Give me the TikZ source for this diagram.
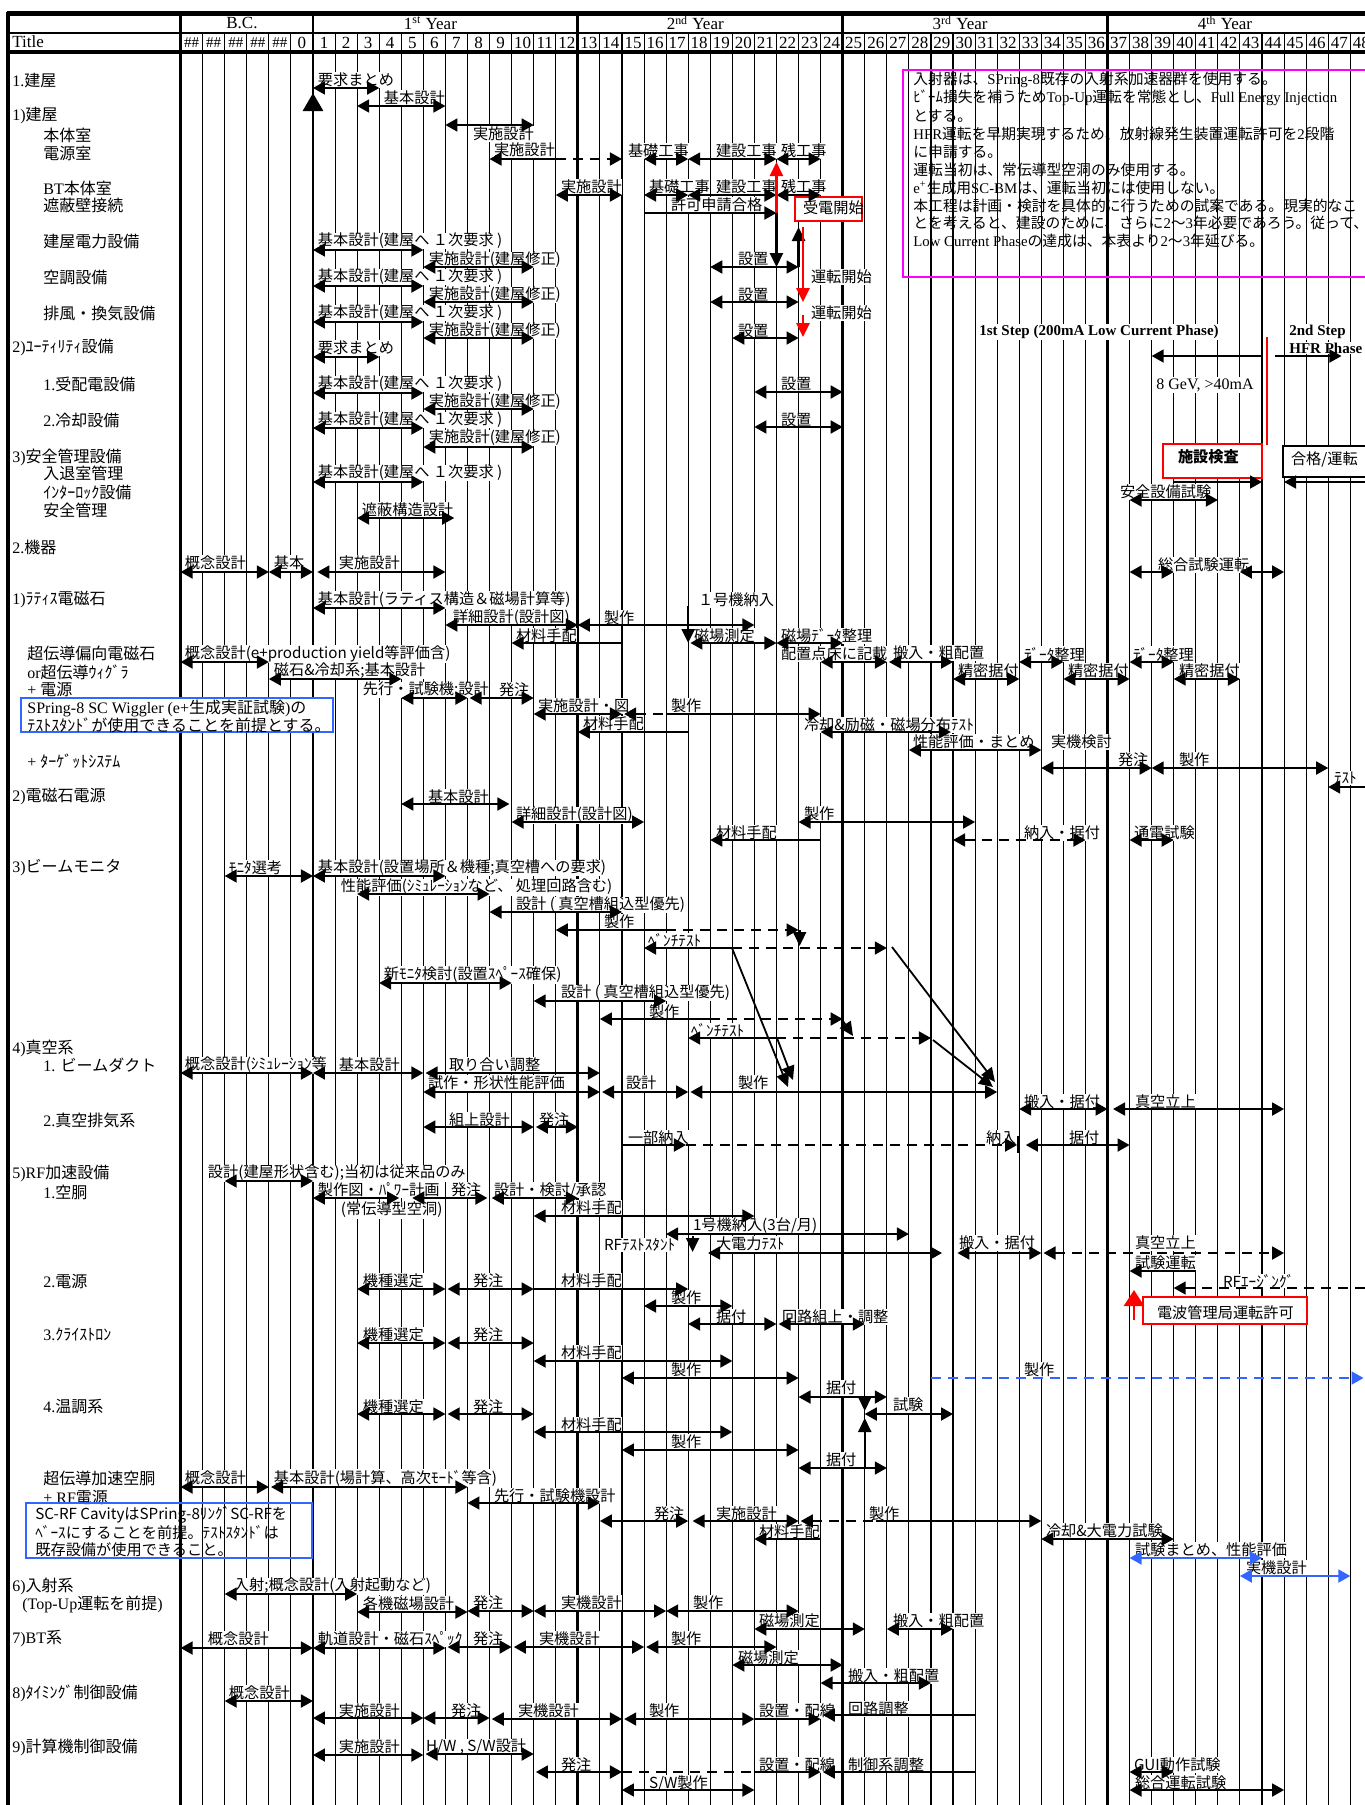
\documentclass[tikz,border=0pt]{standalone}
\usepackage{fontspec}
\setmainfont{Liberation Serif}
\newfontfamily\jafont{Noto Sans CJK JP}
\usetikzlibrary{arrows.meta}
\definecolor{bl}{RGB}{51,102,255}
\definecolor{mg}{RGB}{255,0,255}
\XeTeXinterchartokenstate=1
\ifdefined\newXeTeXintercharclass \newXeTeXintercharclass\JAcls \else \chardef\JAcls=11 \fi
\newcount\jc
\jc="3000
\loop\XeTeXcharclass\jc=\JAcls \advance\jc by 1 \ifnum\jc<"A000 \repeat
\jc="FF00
\loop\XeTeXcharclass\jc=\JAcls \advance\jc by 1 \ifnum\jc<"FFF0 \repeat
\XeTeXinterchartoks 0 \JAcls={\jafont}
\XeTeXinterchartoks 4095 \JAcls={\jafont}
\XeTeXinterchartoks \JAcls 0={\rmfamily}
\XeTeXinterchartoks 4095 0={\rmfamily}
\newcommand\labfont{\XeTeXinterchartokenstate=0 \jafont\fontsize{7.6}{8.6}\selectfont}
\newcommand\pxm[1]{((#1)-313)/22.07}
\newcounter{lc}
\pgfdeclarelayer{bg}
\pgfdeclarelayer{grid}
\pgfdeclarelayer{lab}
\pgfsetlayers{bg,grid,lab,main}
\tikzset{
 gl/.style={line width=0.55pt},
 yl/.style={line width=1.4pt},
 lab/.style={font=\labfont, fill=white, inner sep=0.3pt, anchor=west},
 ttl/.style={font=\rmfamily\fontsize{8}{9}\selectfont, anchor=west, inner sep=0pt},
 hdr/.style={font=\rmfamily\fontsize{8.5}{9}\selectfont, inner sep=0pt},
 notetxt/.style={font=\rmfamily\fontsize{7.4}{8}\selectfont, anchor=west, inner sep=0pt},
 bb/.style={line width=0.9pt, {Triangle[length=6pt,width=6.5pt]}-{Triangle[length=6pt,width=6.5pt]}},
 rb/.style={line width=0.9pt, -{Triangle[length=6pt,width=6.5pt]}},
 lb/.style={line width=0.9pt, {Triangle[length=6pt,width=6.5pt]}-},
 nb/.style={line width=0.9pt},
 dsh/.style={dash pattern=on 5pt off 3.5pt},
 va/.style={line width=1.3pt, -{Triangle[length=7pt,width=6.5pt]}},
}
\newcommand\LL[3]{\stepcounter{lc}\begin{pgfonlayer}{lab}\node[lab] (g\arabic{lc}) at ({\pxm{#1}},#2) {#3};\end{pgfonlayer}}
\newcommand\BB[4][bb]{\draw[#1] (#2,#4) -- (#3,#4);}
\newcommand\LT[3]{\stepcounter{lc}\node[ttl] (t\arabic{lc}) at ({\pxm{#1}},#2) {#3};}
\begin{document}
\begin{tikzpicture}[x=11.035pt,y=-0.5pt]
\useasboundingbox ({\pxm{0}},0) rectangle ({\pxm{1365}},1805);
\begin{pgfonlayer}{bg}
\fill[white] ({\pxm{0}},0) rectangle ({\pxm{1365}},1805);
\end{pgfonlayer}
% ---------- grid ----------
\begin{pgfonlayer}{grid}
\foreach \k in {-5,...,48} \draw[gl] (\k,33) -- (\k,1810);
\foreach \k in {0,12,24,36} \draw[yl] (\k,13) -- (\k,1810);
\draw[line width=1.6pt] (-6,13) -- (-6,1810);
\end{pgfonlayer}
\draw[line width=2.2pt] ({\pxm{8}},12) -- ({\pxm{8}},1810);
\draw[line width=2.5pt] ({\pxm{7}},13) -- (49,13);
\draw[line width=0.8pt] ({\pxm{8}},33) -- (49,33);
\draw[line width=1.6pt] ({\pxm{8}},52) -- (49,52);
% ---------- header ----------
\node[hdr] (hbc) at ({\pxm{242}},23) {B.C.};
\node[hdr] (hy1) at (6-0.68,23) {1\textsuperscript{st} Year};
\node[hdr] (hy2) at (18-0.68,23) {2\textsuperscript{nd} Year};
\node[hdr] (hy3) at (30-0.68,23) {3\textsuperscript{rd} Year};
\node[hdr] (hy4) at (42-0.68,23) {4\textsuperscript{th} Year};
\node[hdr,anchor=west] (htitle) at ({\pxm{12}},42) {Title};
\foreach \k in {-6,...,-2} \node[hdr,font=\rmfamily\fontsize{7.5}{8}\selectfont] (hh\k) at (\k+0.5,43) {\#\#};
\node[hdr] (h0) at (-0.5,43) {0};
\foreach \k in {1,...,48} \node[hdr] (hn\k) at (\k-0.5,43) {\k};
% ---------- left titles ----------
\LT{12}{80}{1.建屋}
\LT{12}{116}{1)建屋}
\LT{43}{135}{本体室}
\LT{43}{153}{電源室}
\LT{43}{188}{BT本体室}
\LT{43}{205}{遮蔽壁接続}
\LT{43}{241}{建屋電力設備}
\LT{43}{277}{空調設備}
\LT{43}{313}{排風・換気設備}
\LT{12}{348}{2)ﾕｰﾃｨﾘﾃｨ設備}
\LT{43}{384}{1.受配電設備}
\LT{43}{420}{2.冷却設備}
\LT{12}{457}{3)安全管理設備}
\LT{43}{473}{入退室管理}
\LT{43}{492}{ｲﾝﾀｰﾛｯｸ設備}
\LT{43}{510}{安全管理}
\LT{12}{547}{2.機器}
\LT{12}{600}{1)ﾗﾃｨｽ電磁石}
\LT{27}{653}{超伝導偏向電磁石}
\LT{27}{672}{or超伝導ｳｨｸﾞﾗ}
\LT{27}{689}{+ 電源}
\LT{27}{761}{+ ﾀｰｹﾞｯﾄｼｽﾃﾑ}
\LT{12}{797}{2)電磁石電源}
\LT{12}{868}{3)ビームモニタ}
\LT{12}{1048}{4)真空系}
\LT{43}{1065}{1. ビームダクト}
\LT{43}{1120}{2.真空排気系}
\LT{12}{1173}{5)RF加速設備}
\LT{43}{1192}{1.空胴}
\LT{43}{1281}{2.電源}
\LT{43}{1335}{3.ｸﾗｲｽﾄﾛﾝ}
\LT{43}{1407}{4.温調系}
\LT{43}{1478}{超伝導加速空胴}
\LT{43}{1497}{+ RF電源}
\LT{12}{1586}{6)入射系}
\LT{22}{1604}{(Top-Up運転を前提)}
\LT{12}{1639}{7)BT系}
\LT{12}{1693}{8)ﾀｲﾐﾝｸﾞ制御設備}
\LT{12}{1747}{9)計算機制御設備}
% blue note boxes
\begin{pgfonlayer}{lab}
\draw[bl,line width=0.8pt,fill=white] ({\pxm{21}},698) rectangle ({\pxm{333}},732);
\node[ttl] (bn1) at ({\pxm{27}},708) {SPring-8 SC Wiggler (e+生成実証試験)の};
\node[ttl] (bn2) at ({\pxm{27}},725) {ﾃｽﾄｽﾀﾝﾄﾞが使用できることを前提とする。};
\end{pgfonlayer}
\draw[bl,line width=0.8pt] ({\pxm{26}},1503) rectangle ({\pxm{312}},1558);
\node[ttl,font=\labfont] (bn3) at ({\pxm{35}},1515) {SC-RF CavityはSPring-8ﾘﾝｸﾞSC-RFを};
\node[ttl,font=\labfont] (bn4) at ({\pxm{35}},1533) {ﾍﾞｰｽにすることを前提。ﾃｽﾄｽﾀﾝﾄﾞは};
\node[ttl,font=\labfont] (bn5) at ({\pxm{35}},1550) {既存設備が使用できること。};
% pink note box
\draw[mg,line width=0.8pt] ({\pxm{903}},70) rectangle (49,277);
\node[notetxt] (p1) at ({\pxm{913}},80) {入射器は、SPring-8既存の入射系加速器群を使用する。};
\node[notetxt] (p2) at ({\pxm{913}},98) {ﾋﾞｰﾑ損失を補うためTop-Up運転を常態とし、Full Energy Injection};
\node[notetxt] (p3) at ({\pxm{913}},116) {とする。};
\node[notetxt] (p4) at ({\pxm{913}},134) {HFR運転を早期実現するため、放射線発生装置運転許可を2段階};
\node[notetxt] (p5) at ({\pxm{913}},152) {に申請する。};
\node[notetxt] (p6) at ({\pxm{913}},170) {運転当初は、常伝導型空洞のみ使用する。};
\node[notetxt] (p7) at ({\pxm{913}},188) {e\textsuperscript{+}生成用SC-BMは、運転当初には使用しない。};
\node[notetxt] (p8) at ({\pxm{913}},206) {本工程は計画・検討を具体的に行うための試案である。現実的なこ};
\node[notetxt] (p9) at ({\pxm{913}},223) {とを考えると、建設のために、さらに2～3年必要であろう。従って、};
\node[notetxt] (p10) at ({\pxm{913}},241) {Low Current Phaseの達成は、本表より2～3年延びる。};
% ---------- 1. 建屋 ----------
\LL{317}{80}{要求まとめ} \BB{0}{3}{88}
\LL{383}{98}{基本設計} \BB{2}{6}{106}
\draw[line width=1.4pt,-{Triangle[length=9pt,width=10pt]}] (0,150) -- (0,93);
\LL{472}{134}{実施設計} \BB{6}{10}{125}
\LL{493}{150}{実施設計} \BB[lb]{8}{11}{159} \BB[rb,dsh]{11}{14}{159}
\LL{627}{151}{基礎工事} \BB{15}{17}{159}
\LL{715}{151}{建設工事} \BB{17}{21}{159}
\LL{780}{151}{残工事} \BB{21}{23}{159}
\LL{560}{187}{実施設計} \BB{11}{14}{195}
\LL{648}{187}{基礎工事} \BB{15}{17}{195}
\LL{715}{187}{建設工事} \BB{17}{21}{195}
\LL{780}{187}{残工事} \BB{21}{23}{195}
\LL{670}{205}{許可申請合格} \BB[rb]{15}{21}{213}
\begin{pgfonlayer}{lab}
\draw[red,line width=0.9pt,fill=white] ({\pxm{795}},197) rectangle ({\pxm{862}},221);
\node[lab,fill=none] (jd) at ({\pxm{802}},208) {受電開始};
\end{pgfonlayer}
\draw[va,red] (21,213) -- (21,162);
\draw[va] (21,213) -- (21,267);
\draw[va] (22,267) -- (22,227);
\draw[va,red] ({\pxm{803}},227) -- ({\pxm{803}},302);
\draw[va,red] ({\pxm{803}},315) -- ({\pxm{803}},337);
\LL{810}{277}{運転開始}
\LL{810}{313}{運転開始}
\LL{317}{241}{基本設計(建屋へ １次要求 )} \BB{0}{5}{250}
\LL{428}{260}{実施設計(建屋修正)} \BB{5}{10}{267}
\LL{737}{259}{設置} \BB{18}{22}{267}
\LL{317}{277}{基本設計(建屋へ １次要求 )} \BB{0}{5}{286}
\LL{428}{295}{実施設計(建屋修正)} \BB{5}{10}{302}
\LL{737}{295}{設置} \BB{18}{22}{302}
\LL{317}{313}{基本設計(建屋へ １次要求 )} \BB{0}{5}{322}
\LL{428}{331}{実施設計(建屋修正)} \BB{5}{10}{338}
\LL{737}{331}{設置} \BB{19}{22}{338}
\LL{317}{348}{要求まとめ} \BB{0}{3}{357}
\LL{317}{384}{基本設計(建屋へ １次要求 )} \BB{0}{5}{393}
\LL{428}{402}{実施設計(建屋修正)} \BB{5}{10}{409}
\LL{780}{384}{設置} \BB{20}{24}{392}
\LL{317}{420}{基本設計(建屋へ １次要求 )} \BB{0}{5}{428}
\LL{428}{438}{実施設計(建屋修正)} \BB{5}{10}{447}
\LL{780}{420}{設置} \BB{20}{24}{427}
\LL{317}{473}{基本設計(建屋へ １次要求 )} \BB{0}{5}{482}
\LL{361}{510}{遮蔽構造設計} \BB{2}{6.4}{518}
% phases
\begin{pgfonlayer}{lab}
\node[notetxt,font=\rmfamily\bfseries\fontsize{7.5}{8}\selectfont,fill=white,inner sep=0.5pt] (s1) at ({\pxm{978}},332) {1st Step (200mA Low Current Phase)};
\node[notetxt,font=\rmfamily\bfseries\fontsize{7.5}{8}\selectfont,fill=white,inner sep=0.5pt] (s2) at ({\pxm{1288}},332) {2nd Step};
\node[notetxt,font=\rmfamily\bfseries\fontsize{7.5}{8}\selectfont,fill=white,inner sep=0.5pt] (s3) at ({\pxm{1288}},348) {HFR Phase};
\node[notetxt,font=\rmfamily\fontsize{8}{9}\selectfont,fill=white,inner sep=0.5pt] (s4) at ({\pxm{1155}},385) {8 GeV, >40mA};
\draw[red,line width=0.9pt,fill=white] ({\pxm{1163}},444) rectangle ({\pxm{1262}},478);
\node[lab,fill=none,font=\labfont\bfseries] (sk) at ({\pxm{1177}},457) {施設検査};
\draw[line width=0.8pt,fill=white] ({\pxm{1283}},446) rectangle (49,477);
\node[lab,fill=none] (gk) at ({\pxm{1290}},459) {合格/運転};
\end{pgfonlayer}
\BB[lb]{38}{43}{356}
\BB[rb]{43.6}{46.6}{356}
\draw[red,line width=1.3pt] ({\pxm{1267}},337) -- ({\pxm{1267}},445);
\BB[rb]{39}{43}{482}
\BB[lb]{44}{49}{482}
\LL{1119}{492}{安全設備試験} \BB{37}{41}{500}
% ---------- 2. 機器 ----------
\LL{184}{563}{概念設計} \BB{-6}{-2}{572}
\LL{273}{563}{基本} \BB{-2}{0}{572}
\LL{338}{563}{実施設計} \BB{0.2}{6}{572}
\LL{1157}{565}{総合試験運転} \BB{37}{39}{572} \BB{42}{44}{572}
\LL{317}{600}{基本設計(ラティス構造＆磁場計算等)} \BB{0}{6}{608}
\LL{452}{618}{詳細設計(設計図)} \BB{6}{12}{625}
\LL{603}{618}{製作} \BB{12}{20}{625}
\LL{515}{636}{材料手配} \BB[lb]{9}{14}{643}
\LL{697}{600}{１号機納入}
\draw[va] (17,606) -- (17,643);
\LL{693}{636}{磁場測定} \BB{17.1}{21}{643}
\LL{780}{636}{磁場ﾃﾞｰﾀ整理} \BB{21}{24}{643}
\LL{780}{654}{配置点床に記載} \BB{23}{26}{662}
\LL{892}{653}{搬入・粗配置} \BB{26.1}{29}{662}
\LL{957}{671}{精密据付} \BB{29}{32}{679}
\LL{1023}{654}{ﾃﾞｰﾀ整理} \BB{32}{34}{662}
\LL{1067}{671}{精密据付} \BB{34}{37}{679}
\LL{1132}{654}{ﾃﾞｰﾀ整理} \BB{37}{39}{662}
\LL{1178}{671}{精密据付} \BB{39}{42}{679}
\LL{184}{654}{概念設計(e+production yield等評価含)} \BB{-6}{-2}{662}
\LL{273}{671}{磁石\&冷却系;基本設計} \BB{-2}{4}{679}
\LL{362}{690}{先行・試験機;設計} \BB{4}{7}{698}
\LL{498}{690}{発注} \BB{7.1}{10}{698}
\LL{537}{706}{実施設計・図} \BB{10}{14}{714}
\LL{670}{706}{製作} \BB[lb,dsh]{14.1}{16}{714} \BB[rb]{16}{23}{714}
\LL{582}{724}{材料手配} \BB[lb]{12}{17}{732}
\LL{803}{725}{冷却\&励磁・磁場分布ﾃｽﾄ} \BB{23}{28.9}{732}
\LL{912}{742}{性能評価・まとめ} \BB{27}{33}{750}
\LL{1050}{742}{実機検討}
\LL{1117}{760}{発注} \BB{33}{38}{768}
\LL{1178}{760}{製作} \BB{38}{46}{768}
\LL{1333}{778}{ﾃｽﾄ} \BB[lb]{46}{49}{787}
\LL{427}{797}{基本設計} \BB{4}{8.9}{804}
\LL{515}{815}{詳細設計(設計図)} \BB{9}{15}{822}
\LL{803}{814}{製作} \BB{22}{30}{822}
\LL{715}{833}{材料手配} \BB[lb]{18}{23}{840}
\LL{1023}{833}{納入・据付} \BB[bb,dsh]{29}{35}{840}
\LL{1133}{833}{通電試験} \BB{37}{39}{840}
% ---------- beam monitor ----------
\LL{228}{868}{ﾓﾆﾀ選考} \BB{-4}{0}{876}
\LL{317}{868}{基本設計(設置場所＆機種;真空槽への要求)} \BB{0}{6}{876}
\LL{340}{887}{性能評価(ｼﾐｭﾚｰｼｮﾝなど、 処理回路含む)} \BB{2}{8}{894}
\LL{515}{905}{設計 ( 真空槽組込型優先)} \BB{8}{14}{912}
\LL{603}{922}{製作} \BB[lb]{11}{16}{930} \BB[rb,dsh]{16}{22}{930}
\draw[va,line width=1pt] (22.05,930) -- (22.05,946);
\LL{647}{940}{ﾍﾞﾝﾁﾃｽﾄ} \BB[lb]{15}{19}{948} \BB[rb,dsh]{19}{26}{948}
\LL{383}{975}{新ﾓﾆﾀ検討(設置ｽﾍﾟｰｽ確保)} \BB{3}{9}{983}
\LL{560}{993}{設計 ( 真空槽組込型優先)} \BB{10}{16}{1001}
\LL{648}{1012}{製作} \BB[lb]{13}{18}{1019} \BB[rb,dsh]{18}{24}{1019}
\draw[va,line width=0.9pt] ({\pxm{843}},1021) -- ({\pxm{853}},1036);
\LL{690}{1030}{ﾍﾞﾝﾁﾃｽﾄ} \BB[lb]{17}{21}{1038} \BB[rb,dsh]{21}{28}{1038}
\draw[va,line width=0.9pt] ({\pxm{732}},948) -- ({\pxm{788}},1087);
\draw[va,line width=0.9pt] ({\pxm{777}},1038) -- ({\pxm{793}},1080);
\draw[va,line width=0.9pt] ({\pxm{892}},947) -- ({\pxm{995}},1082);
\draw[va,line width=0.9pt] ({\pxm{933}},1040) -- ({\pxm{993}},1087);
% ---------- vacuum ----------
\LL{184}{1065}{概念設計(ｼﾐｭﾚｰｼｮﾝ等} \BB{-6}{0}{1073}
\LL{338}{1065}{基本設計} \BB{0}{5}{1073}
\LL{448}{1065}{取り合い調整} \BB{5.1}{13}{1073}
\LL{427}{1083}{試作・形状性能評価} \BB{5}{13}{1092}
\LL{625}{1083}{設計} \BB{13.1}{17}{1092}
\LL{737}{1083}{製作} \BB{17.1}{31}{1092}
\LL{1023}{1102}{搬入・据付} \BB{32}{36}{1109}
\LL{1134}{1102}{真空立上} \BB{36.25}{44}{1109}
\LL{448}{1120}{組上設計} \BB{5}{10}{1127}
\LL{538}{1120}{発注} \BB{10.1}{12}{1127}
\LL{627}{1138}{一部納入} \BB[rb]{14}{16.9}{1145} \BB[rb,dsh]{16.9}{31.9}{1145}
\LL{985}{1138}{納入}
\draw[line width=1pt] ({\pxm{1018}},1136) -- ({\pxm{1018}},1153);
\LL{1068}{1138}{据付} \BB{32.3}{37}{1145}
% ---------- RF ----------
\LL{207}{1173}{設計(建屋形状含む);当初は従来品のみ} \BB{-4}{0}{1181}
\LL{317}{1190}{製作図・ﾊﾟﾜｰ計画} \BB{0}{3.9}{1198}
\LL{340}{1210}{(常伝導型空洞)}
\LL{450}{1190}{発注} \BB{4.5}{7.9}{1198}
\LL{493}{1190}{設計・検討/承認} \BB{8.1}{12}{1198}
\LL{560}{1208}{材料手配} \BB{10}{20}{1216}
\LL{692}{1226}{1号機納入(3台/月)} \BB{16}{27}{1234}
\LL{603}{1245}{RFﾃｽﾄｽﾀﾝﾄ}
\draw[va,line width=1pt] (17.2,1236) -- (17.2,1252);
\LL{715}{1244}{大電力ﾃｽﾄ} \BB{17.9}{28.5}{1253}
\LL{958}{1243}{搬入・据付} \BB{29.2}{33}{1253}
\LL{1134}{1243}{真空立上} \BB[bb,dsh]{33.1}{44}{1253}
\LL{1134}{1263}{試験運転} \BB[lb]{37}{40}{1271}
\LL{1222}{1281}{RFｴｰｼﾞﾝｸﾞ} \BB[lb,dsh]{39}{49}{1288}
\begin{pgfonlayer}{lab}
\draw[red,line width=0.9pt,fill=white] ({\pxm{1143}},1297) rectangle ({\pxm{1307}},1324);
\node[lab,fill=none] (dh) at ({\pxm{1156}},1313) {電波管理局運転許可};
\end{pgfonlayer}
\draw[red,line width=1.3pt,-{Triangle[length=8pt,width=10pt]}] (37.2,1320) -- (37.2,1290);
\LL{362}{1281}{機種選定} \BB{2}{6}{1289}
\LL{472}{1281}{発注} \BB{6.1}{10}{1289}
\LL{560}{1281}{材料手配} \BB[rb]{10}{17}{1289}
\LL{670}{1298}{製作} \BB{15}{19}{1306}
\LL{715}{1317}{据付} \BB{17}{21}{1324}
\LL{781}{1317}{回路組上・調整} \BB{21.1}{25}{1324}
\LL{362}{1335}{機種選定} \BB{2}{6}{1343}
\LL{472}{1335}{発注} \BB{6.1}{10}{1343}
\LL{560}{1353}{材料手配} \BB{10}{19}{1361}
\LL{670}{1370}{製作} \BB{14}{22}{1378}
\LL{825}{1388}{据付} \BB{22}{26}{1397}
\LL{1023}{1370}{製作}
\draw[bl,rb,dsh] (28,1378) -- (47.6,1378);
\LL{362}{1407}{機種選定} \BB{2}{6}{1414}
\LL{472}{1407}{発注} \BB{6.1}{10}{1414}
\LL{560}{1425}{材料手配} \BB{10}{19}{1432}
\LL{670}{1442}{製作} \BB{14}{22}{1450}
\LL{825}{1460}{据付} \BB{22}{26}{1468}
\LL{892}{1405}{試験} \BB{25}{29}{1414}
\draw[va,line width=1pt] (25,1397) -- (25,1411);
\draw[va,line width=1pt] (25,1468) -- (25,1418);
\LL{184}{1478}{概念設計} \BB{-6}{-2}{1487}
\LL{273}{1478}{基本設計(場計算、高次ﾓｰﾄﾞ等含)} \BB{-1.9}{7}{1487}
\LL{493}{1496}{先行・試験機設計} \BB{7}{13}{1503}
\LL{653}{1514}{発注} \BB{13}{17}{1521}
\LL{715}{1514}{実施設計} \BB{17.2}{22}{1521}
\LL{868}{1514}{製作} \BB[lb,dsh]{22.1}{25.5}{1521} \BB[rb]{25.5}{33}{1521}
\LL{758}{1532}{材料手配} \BB[lb]{20}{23}{1539}
\LL{1045}{1531}{冷却\&大電力試験} \BB{33}{39}{1539}
\LL{1134}{1550}{試験まとめ、性能評価} \BB[bb,bl]{37}{43}{1558}
\LL{1245}{1568}{実機設計} \BB[bb,bl]{42}{47}{1576}
% ---------- injection / BT / timing / computer ----------
\LL{233}{1586}{入射;概念設計(入射起動など)} \BB{-4}{2}{1594}
\LL{362}{1604}{各機磁場設計} \BB{2}{7}{1612}
\LL{472}{1603}{発注} \BB{7}{10}{1611}
\LL{560}{1603}{実機設計} \BB{10}{16}{1611}
\LL{692}{1603}{製作} \BB{16}{22}{1611}
\LL{758}{1621}{磁場測定} \BB{20}{25}{1629}
\LL{892}{1621}{搬入・粗配置} \BB{26}{29}{1629}
\LL{207}{1639}{概念設計} \BB{-6}{0}{1648}
\LL{317}{1639}{軌道設計・磁石ｽﾍﾟｯｸ} \BB{0}{6}{1648}
\LL{472}{1639}{発注} \BB{6.1}{9}{1647}
\LL{538}{1639}{実機設計} \BB{9.1}{15}{1647}
\LL{670}{1639}{製作} \BB{15.1}{21}{1647}
\LL{737}{1658}{磁場測定} \BB{19}{24}{1665}
\LL{847}{1676}{搬入・粗配置} \BB{23}{28}{1683}
\LL{228}{1693}{概念設計} \BB{-4}{0}{1701}
\LL{338}{1711}{実施設計} \BB{0}{5}{1718}
\LL{450}{1711}{発注} \BB{5}{8}{1718}
\LL{517}{1711}{実機設計} \BB{8.1}{14}{1719}
\LL{648}{1711}{製作} \BB{14.1}{20}{1719}
\LL{758}{1711}{設置・配線} \BB[rb]{20}{23}{1719}
\LL{847}{1709}{回路調整} \BB[lb]{23.1}{30}{1715}
\LL{338}{1747}{実施設計} \BB{0}{5}{1755}
\LL{425}{1747}{H/W , S/W設計} \BB{5.1}{10}{1754}
\LL{560}{1765}{発注} \BB{10.1}{14}{1772} \BB[nb,dsh]{14}{20}{1772}
\LL{758}{1765}{設置・配線} \BB[rb]{20}{23}{1772}
\LL{847}{1765}{制御系調整} \BB[lb]{23.1}{30}{1772}
\LL{648}{1783}{S/W製作} \BB{14}{20}{1790}
\LL{1133}{1765}{GUI動作試験} \BB{37}{39}{1772}
\LL{1134}{1783}{総合運転試験} \BB{37}{44}{1790}
\end{tikzpicture}
\end{document}
